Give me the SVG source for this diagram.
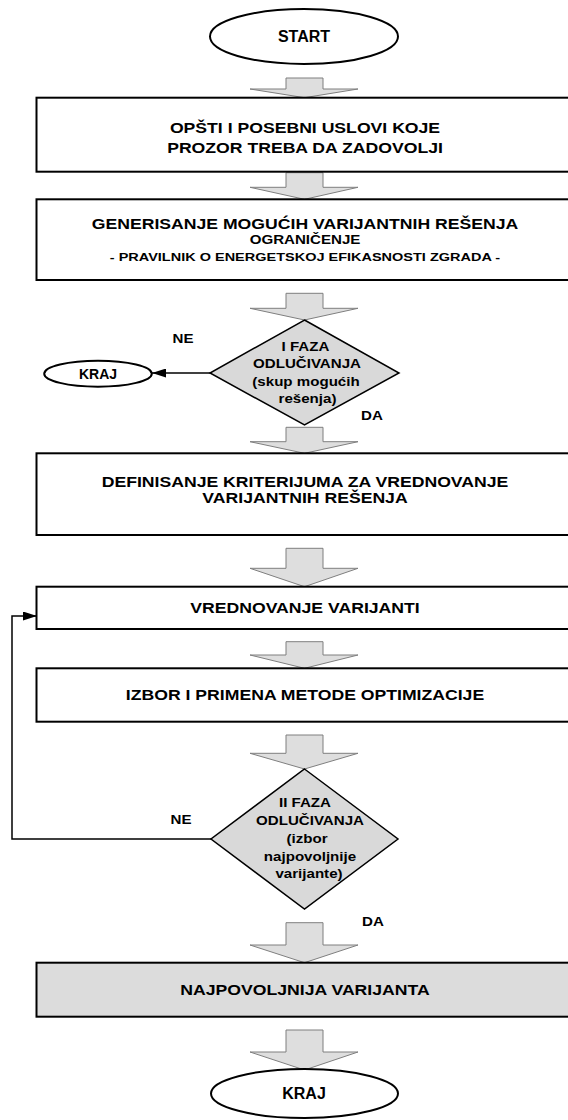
<svg xmlns="http://www.w3.org/2000/svg" width="568" height="1120" viewBox="0 0 568 1120">
<style>
.t{font-family:"Liberation Sans",Arial,sans-serif;font-weight:bold;fill:#000;text-anchor:middle}
.b{font-size:14px}
.s{font-size:12px}
.box{fill:#fff;stroke:#000;stroke-width:2}
.dia{fill:#d9d9d9;stroke:#000;stroke-width:1.5}
.term{fill:#fff;stroke:#000;stroke-width:2}
.blk{fill:#dedede;stroke:#7f7f7f;stroke-width:1}
.ln{fill:none;stroke:#000;stroke-width:1.5}
</style>
<defs>
<marker id="ah" markerUnits="userSpaceOnUse" markerWidth="14" markerHeight="9" refX="14" refY="4.5" orient="auto">
<path d="M0,0 L14,4.5 L0,9 z" fill="#000"/>
</marker>
</defs>
<rect width="568" height="1120" fill="#fff"/>

<g id="connectors">
<path class="blk" d="M286,78 H323 V89 H358 L304.5,97.7 L250,89 H286 Z"/>
<path class="blk" d="M286,172.7 H323 V187.3 H358 L304.5,199.3 L250,187.3 H286 Z"/>
<path class="blk" d="M286,293.3 H323 V308.3 H358 L304.5,320 L250,308.3 H286 Z"/>
<path class="blk" d="M286,427.3 H323 V441.7 H358 L304.5,453.3 L250,441.7 H286 Z"/>
<path class="blk" d="M286,548.3 H323 V568.3 H358 L304.5,586.7 L250,568.3 H286 Z"/>
<path class="blk" d="M286,641.7 H323 V655 H358 L304.5,668.3 L250,655 H286 Z"/>
<path class="blk" d="M286,735 H323 V753.3 H358 L304.5,769 L250,753.3 H286 Z"/>
<path class="blk" d="M286,922.7 H323 V945 H358 L304.5,962.7 L250,945 H286 Z"/>
<path class="blk" d="M286,1030 H323 V1052 H358 L304.5,1070 L250,1052 H286 Z"/>
<line class="ln" x1="210" y1="373" x2="152" y2="373" marker-end="url(#ah)"/>
<path class="ln" d="M211,839 H12 V616 H37" marker-end="url(#ah)"/>
<text class="t s" transform="matrix(1.26 0 0 1 183 342.5)">NE</text>
<text class="t s" transform="matrix(1.26 0 0 1 372 419.5)">DA</text>
<text class="t s" transform="matrix(1.26 0 0 1 181 823.5)">NE</text>
<text class="t s" transform="matrix(1.26 0 0 1 373 925.5)">DA</text>
</g>

<g id="start">
<ellipse class="term" cx="304" cy="36.5" rx="94" ry="27.5"/>
<text class="t" x="304" y="42" font-size="16">START</text>
</g>

<g id="box1">
<rect class="box" x="36.5" y="97.7" width="540" height="74"/>
<text class="t b" transform="matrix(1.26 0 0 1 305 133.3)">OPŠTI I POSEBNI USLOVI KOJE</text>
<text class="t b" transform="matrix(1.26 0 0 1 305 153.3)">PROZOR TREBA DA ZADOVOLJI</text>
</g>

<g id="box2">
<rect class="box" x="36.5" y="199.3" width="540" height="80.7"/>
<text class="t b" transform="matrix(1.26 0 0 1 305 229)">GENERISANJE MOGUĆIH VARIJANTNIH REŠENJA</text>
<text class="t s" transform="matrix(1.26 0 0 1 305 243.5)">OGRANIČENJE</text>
<text class="t" font-size="11.5" transform="matrix(1.26 0 0 1 305 260.5)">- PRAVILNIK O ENERGETSKOJ EFIKASNOSTI ZGRADA -</text>
</g>

<g id="decision1">
<polygon class="dia" points="304.5,320 399,373 304.5,425 210,373"/>
<text class="t s" transform="matrix(1.26 0 0 1 305.5 351)">I FAZA</text>
<text class="t s" transform="matrix(1.26 0 0 1 307 367.6)">ODLUČIVANJA</text>
<text class="t s" transform="matrix(1.26 0 0 1 306 386)">(skup mogućih</text>
<text class="t s" transform="matrix(1.26 0 0 1 307.5 402.6)">rešenja)</text>
</g>

<g id="kraj1">
<ellipse class="term" cx="98" cy="373.7" rx="53.8" ry="13"/>
<text class="t" x="98" y="378.5" font-size="14">KRAJ</text>
</g>

<g id="box3">
<rect class="box" x="36.5" y="453.3" width="540" height="81.7"/>
<text class="t b" transform="matrix(1.26 0 0 1 305 486.7)">DEFINISANJE KRITERIJUMA ZA VREDNOVANJE</text>
<text class="t b" transform="matrix(1.26 0 0 1 305 503.3)">VARIJANTNIH REŠENJA</text>
</g>

<g id="box4">
<rect class="box" x="36.5" y="586.7" width="540" height="42.3"/>
<text class="t b" transform="matrix(1.26 0 0 1 305 613.3)">VREDNOVANJE VARIJANTI</text>
</g>

<g id="box5">
<rect class="box" x="36.5" y="668.3" width="540" height="53.4"/>
<text class="t b" transform="matrix(1.26 0 0 1 305 700)">IZBOR I PRIMENA METODE OPTIMIZACIJE</text>
</g>

<g id="decision2">
<polygon class="dia" points="304.5,769 398,839 304.5,909 211,839"/>
<text class="t s" transform="matrix(1.26 0 0 1 305 807.3)">II FAZA</text>
<text class="t s" transform="matrix(1.26 0 0 1 310 825.3)">ODLUČIVANJA</text>
<text class="t s" transform="matrix(1.26 0 0 1 307 843.3)">(izbor</text>
<text class="t s" transform="matrix(1.26 0 0 1 310 861.3)">najpovoljnije</text>
<text class="t s" transform="matrix(1.26 0 0 1 309 878.3)">varijante)</text>
</g>

<g id="box6">
<rect x="36.5" y="962.7" width="540" height="54" fill="#dcdcdc" stroke="#000" stroke-width="2"/>
<text class="t b" transform="matrix(1.26 0 0 1 305 995)">NAJPOVOLJNIJA VARIJANTA</text>
</g>

<g id="kraj2">
<ellipse class="term" cx="304.5" cy="1093.5" rx="93.5" ry="24.5"/>
<text class="t" x="304" y="1099" font-size="16">KRAJ</text>
</g>
</svg>
